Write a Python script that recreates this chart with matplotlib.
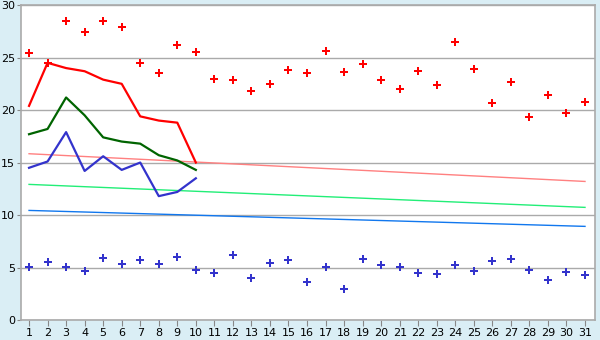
import matplotlib
matplotlib.use("Agg")
import matplotlib.pyplot as plt

days = list(range(1, 32))

# daily high / low points
high_pts = [25.4, 24.5, 28.5, 27.4, 28.5, 27.95, 24.5, 23.5, 26.2, 25.5,
            23.0, 22.9, 21.8, 22.5, 23.8, 23.5, 25.6, 23.6, 24.4, 22.9,
            22.0, 23.7, 22.4, 26.5, 23.9, 20.7, 22.7, 19.3, 21.4, 19.7, 20.8]
low_pts = [5.08, 5.49, 5.02, 4.63, 5.87, 5.37, 5.68, 5.37, 5.97, 4.76,
           4.44, 6.16, 3.97, 5.4, 5.68, 3.59, 5.02, 2.92, 5.78, 5.21,
           5.02, 4.44, 4.35, 5.21, 4.63, 5.59, 5.78, 4.73, 3.78, 4.54, 4.25]

# first ten days lines
line_days = list(range(1, 11))
red_line = [20.4, 24.5, 24.0, 23.7, 22.9, 22.5, 19.4, 19.0, 18.8, 15.0]
green_line = [17.7, 18.2, 21.2, 19.5, 17.4, 17.0, 16.8, 15.7, 15.2, 14.3]
blue_line = [14.5, 15.1, 17.9, 14.2, 15.6, 14.3, 15.0, 11.8, 12.2, 13.5]

# trend lines (start, end)
trend_days = [1, 31]
pink_trend = [15.84, 13.2]
lgreen_trend = [12.92, 10.73]
lblue_trend = [10.44, 8.92]

bg = "#daeef5"
fig = plt.figure(figsize=(6, 3.4), dpi=100, facecolor=bg)
ax = fig.add_axes([0.0345, 0.0588, 0.9572, 0.9262])
ax.set_facecolor("white")

ax.plot(trend_days, pink_trend, color="#ff8080", lw=1)
ax.plot(trend_days, lgreen_trend, color="#22ee77", lw=1)
ax.plot(trend_days, lblue_trend, color="#1177ee", lw=1)

ax.plot(line_days, red_line, color="#ff0000", lw=1.6)
ax.plot(line_days, green_line, color="#006400", lw=1.6)
ax.plot(line_days, blue_line, color="#3333cc", lw=1.6)

ax.plot(days, high_pts, "P", color="#ff0000", ms=6, mew=0, ls="none")
ax.plot(days, low_pts, "P", color="#3333cc", ms=6, mew=0, ls="none")

ax.set_xlim(0.55, 31.54)
ax.set_ylim(0, 30)
ax.set_xticks(days)
ax.set_yticks([0, 5, 10, 15, 20, 25, 30])
ax.grid(axis="y", color="#aaaaaa", lw=1)
ax.set_axisbelow(True)
for s in ax.spines.values():
    s.set_color("#aaaaaa")
    s.set_linewidth(1.2)
ax.tick_params(colors="#888888", labelcolor="black", labelsize=8, length=4, pad=2)
ax.tick_params(axis="y", length=3, pad=1)

fig.savefig("out.png", dpi=100, facecolor=bg)
